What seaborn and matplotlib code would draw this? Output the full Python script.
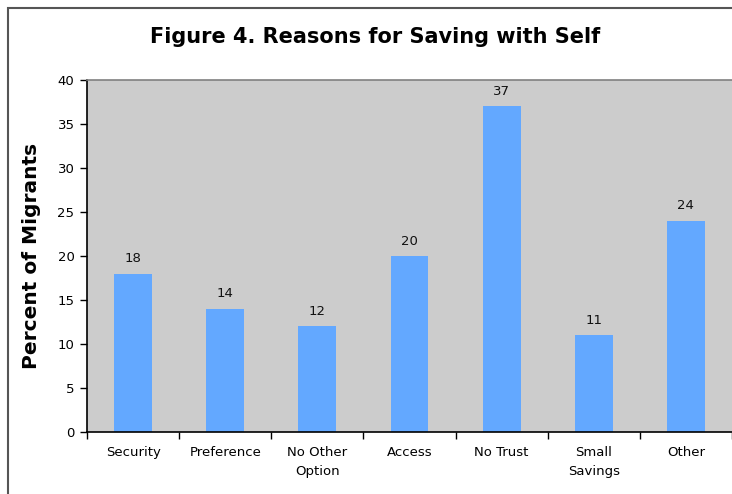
import matplotlib
matplotlib.use("Agg")
import matplotlib.pyplot as plt
import seaborn as sns
import pandas as pd
from matplotlib.patches import Rectangle

categories = ["Security", "Preference", "No Other\nOption", "Access", "No Trust", "Small\nSavings", "Other"]
values = [18, 14, 12, 20, 37, 11, 24]
y_ticks = [0, 5, 10, 15, 20, 25, 30, 35, 40]

sns.set_theme(style="white")
plt.rcParams['font.family'] = ['DejaVu Sans']
plt.rcParams['text.color'] = 'black'
plt.rcParams['axes.labelcolor'] = 'black'
plt.rcParams['xtick.color'] = 'black'
plt.rcParams['ytick.color'] = 'black'

df = pd.DataFrame({"reason": categories, "pct": values})

fig = plt.figure(figsize=(7.32, 4.94), dpi=100)
ax = fig.add_axes([87/732, 1-432/494, 1-87/732, (432-80)/494])
ax.set_facecolor("#CCCCCC")

sns.barplot(data=df, x="reason", y="pct", color="#63A8FF", saturation=1, width=0.41,
            edgecolor="none", linewidth=0, ax=ax)
for c in ax.containers:
    ax.bar_label(c, padding=6, fontsize=9.5, color="#111111")

ax.set_xlim(-0.5, len(categories) - 0.5)
ax.set_ylim(0, 40)
ax.set_yticks(y_ticks)
ax.set_yticklabels([str(t) for t in y_ticks], fontsize=9.5)
ax.set_xticks(range(len(categories)))
ax.set_xticklabels(categories, fontsize=9.5, linespacing=1.65, va="top")
ax.set_xticks([i - 0.5 for i in range(len(categories) + 1)], minor=True)
ax.tick_params(axis="x", which="major", length=0, pad=10)
ax.tick_params(axis="x", which="minor", length=5, width=1, color="black", direction="out", bottom=True)
ax.tick_params(axis="y", length=5, width=1, color="black", direction="out", left=True, pad=4)
ax.set_xlabel("")
ax.set_ylabel("Percent of Migrants", fontsize=14.5, fontweight="bold", labelpad=12)

for s in ["left", "bottom"]:
    ax.spines[s].set_color("black")
    ax.spines[s].set_linewidth(1.2)
ax.spines["top"].set_color("#808080")
ax.spines["top"].set_linewidth(1.2)
ax.spines["right"].set_visible(False)

fig.text(375/732, 1-37/494, "Figure 4. Reasons for Saving with Self", ha="center", va="center",
         fontsize=15, fontweight="bold")

fig.patches.append(Rectangle((8/732, -0.1), 1.2, 1.1 - 8/494, transform=fig.transFigure,
                             fill=False, edgecolor="#555555", linewidth=1.5, zorder=0))

fig.savefig("out.png", dpi=100)
